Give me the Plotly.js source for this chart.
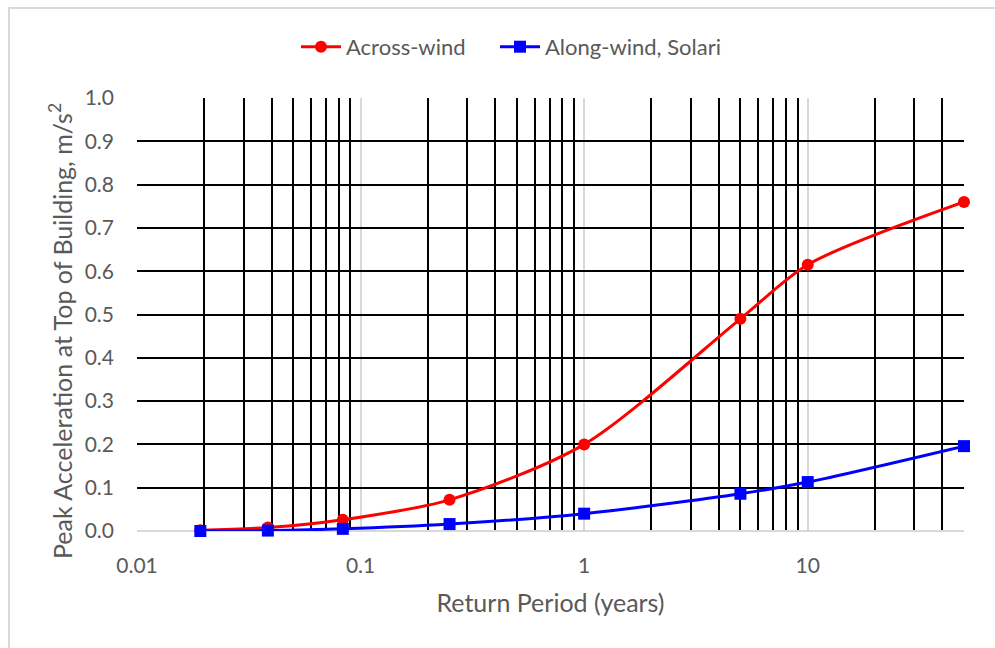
<!DOCTYPE html>
<html>
<head>
<meta charset="utf-8">
<script src="https://cdn.plot.ly/plotly-3.0.1.min.js"></script>
<style>
  html, body { margin: 0; padding: 0; background: #ffffff; }
  #wrap { position: relative; width: 995px; height: 648px; overflow: hidden; }
  #chart { width: 995px; height: 648px; }
  #frame { position: absolute; left: 8px; top: 7px; width: 1100px; height: 800px;
           border: 2px solid #d9d9d9; pointer-events: none; box-sizing: border-box; }
</style>
</head>
<body>
<div id="wrap">
  <div id="chart"></div>
  <div id="frame"></div>
</div>
<script>
// Return period in years (weekly, bi-weekly, monthly, 3-month, 1, 5, 10, 50 years)
const returnPeriod = [0.0192, 0.0385, 0.0833, 0.25, 1, 5, 10, 50];
// Peak acceleration at top of building, m/s^2
const acrossWind = [0.002, 0.008, 0.026, 0.072, 0.200, 0.490, 0.615, 0.760];
const alongWindSolari = [0.000, 0.001, 0.005, 0.016, 0.040, 0.086, 0.113, 0.196];

const seriesNames = ["Across-wind", "Along-wind, Solari"];
const yTickVals = [0, 0.1, 0.2, 0.3, 0.4, 0.5, 0.6, 0.7, 0.8, 0.9, 1.0];
const xTickVals = [0.01, 0.1, 1, 10];
const xTickText = ["0.01", "0.1", "1", "10"];
const yTitle = "Peak Acceleration at Top of Building, m/s<sup>2</sup>";
const xTitle = "Return Period (years)";

const FONT = "Lato, 'Open Sans', sans-serif";
const TXT = "#595959";

const traces = [
  {
    x: returnPeriod, y: acrossWind, name: seriesNames[0],
    type: "scatter", mode: "lines+markers",
    line: { color: "#ff0000", width: 3, shape: "spline", smoothing: 0.8 },
    marker: { color: "#ff0000", symbol: "circle", size: 12 },
    cliponaxis: false, legend: "legend"
  },
  {
    x: returnPeriod, y: alongWindSolari, name: seriesNames[1],
    type: "scatter", mode: "lines+markers",
    line: { color: "#0000ff", width: 3, shape: "spline", smoothing: 0.8 },
    marker: { color: "#0000ff", symbol: "square", size: 12 },
    cliponaxis: false, legend: "legend2"
  }
];

const legendCommon = {
  orientation: "h", y: 1.118, yanchor: "middle", xanchor: "left",
  font: { family: FONT, size: 22, color: TXT },
  itemwidth: 40, bgcolor: "rgba(0,0,0,0)"
};

const layout = {
  width: 995, height: 648,
  margin: { l: 137, r: 31, t: 98, b: 117 },
  paper_bgcolor: "#ffffff",
  plot_bgcolor: "#ffffff",
  font: { family: FONT, color: TXT, size: 21 },
  showlegend: true,
  legend: Object.assign({}, legendCommon, { x: (296 - 137) / 827 }),
  legend2: Object.assign({}, legendCommon, { x: (495 - 137) / 827 }),
  xaxis: {
    type: "log",
    range: [-2, Math.log10(50)],
    tickvals: xTickVals, ticktext: xTickText,
    showgrid: true, gridcolor: "#d9d9d9", gridwidth: 2,
    minor: { dtick: "D1", showgrid: true, gridcolor: "#000000", gridwidth: 2, ticks: "" },
    showline: false, zeroline: false, ticks: "",
    ticklabelstandoff: 20,
    tickfont: { family: FONT, size: 21, color: TXT },
    title: { text: xTitle, font: { family: FONT, size: 25, color: TXT }, standoff: 18 },
    automargin: false
  },
  yaxis: {
    range: [0, 1.0],
    tickvals: yTickVals, tickformat: ".1f",
    showgrid: true, gridcolor: "#000000", gridwidth: 2,
    zeroline: true, zerolinecolor: "#d9d9d9", zerolinewidth: 2,
    showline: false, ticks: "",
    ticklabelstandoff: 22,
    tickfont: { family: FONT, size: 21, color: TXT },
    automargin: false
  },
  annotations: [
    {
      text: yTitle, textangle: -90, showarrow: false,
      xref: "paper", yref: "paper",
      x: (60 - 137) / 827, y: (531 - 331) / 433,
      xanchor: "center", yanchor: "middle",
      font: { family: FONT, size: 25, color: TXT }
    }
  ]
};

Plotly.newPlot("chart", traces, layout, { displayModeBar: false, staticPlot: true });
</script>
</body>
</html>
